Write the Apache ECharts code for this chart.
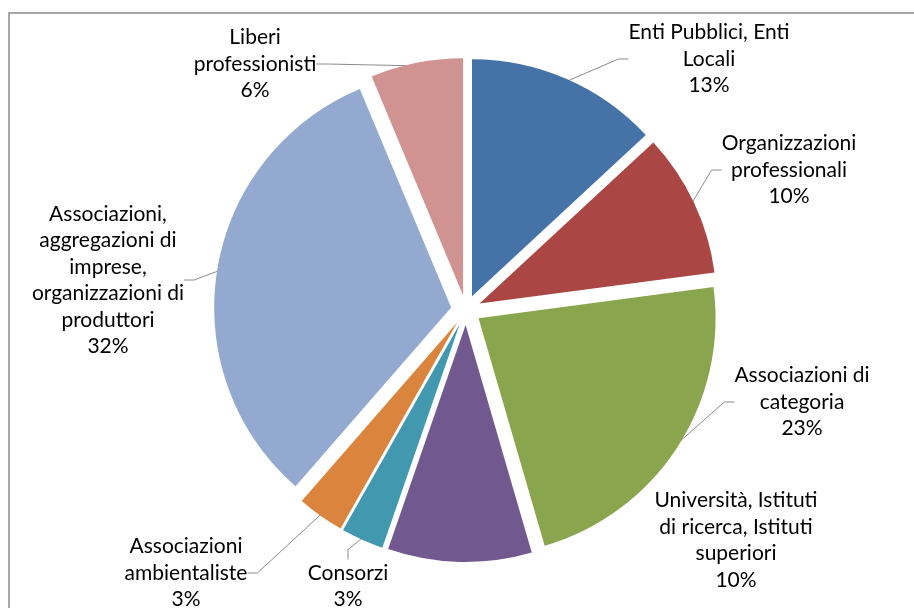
<!DOCTYPE html>
<html>
<head>
<meta charset="utf-8">
<script src="https://cdn.jsdelivr.net/npm/echarts@6/dist/echarts.min.js"></script>
<style>
html,body{margin:0;padding:0;background:#fff;}
#chart{width:914px;height:608px;}
</style>
</head>
<body>
<div id="chart"></div>
<script>
// Data
const categories = [
  "Enti Pubblici, Enti\nLocali",
  "Organizzazioni\nprofessionali",
  "Associazioni di\ncategoria",
  "Università, Istituti\ndi ricerca, Istituti\nsuperiori",
  "Consorzi",
  "Associazioni\nambientaliste",
  "Associazioni,\naggregazioni di\nimprese,\norganizzazioni di\nproduttori",
  "Liberi\nprofessionisti"
];
// shares (%); labels show them rounded
const values = [13.1, 9.8, 22.6, 9.8, 2.9, 3.2, 32.3, 6.3];
const colors = ["#4572A7", "#AA4643", "#89A54E", "#71588F", "#4198AF", "#DB843D", "#93A9CF", "#D19392"];

// Label anchor positions (text block centers) – layout only
const labelPos = [
  [709, 59], [789, 170], [802, 402], [736, 540],
  [348, 586], [186, 573], [108, 280], [255, 64]
];

const chart = echarts.init(document.getElementById('chart'), null, {renderer: 'canvas'});
const option = {
  animation: false,
  backgroundColor: '#ffffff',
  graphic: [{
    type: 'rect',
    shape: {x: 9, y: 13, width: 1000, height: 800},
    style: {fill: 'none', stroke: '#8c8c8c', lineWidth: 1.5},
    silent: true
  }],
  series: [{
    // exploded slices
    type: 'pie',
    center: [466, 310],
    radius: 237,
    startAngle: 90,
    clockwise: true,
    selectedMode: 'multiple',
    selectedOffset: 15,
    emphasis: {disabled: true},
    itemStyle: {borderWidth: 0},
    label: {show: false},
    labelLine: {show: false},
    data: categories.map((name, i) => ({
      name: name,
      value: values[i],
      selected: true,
      itemStyle: {color: colors[i]},
      select: {itemStyle: {color: colors[i]}}
    }))
  }, {
    // labels with leader lines
    type: 'pie',
    center: [466, 310],
    radius: 249,
    startAngle: 90,
    clockwise: true,
    silent: true,
    selectedMode: false,
    percentPrecision: 0,
    emphasis: {disabled: true},
    itemStyle: {color: 'rgba(0,0,0,0)', borderWidth: 0},
    label: {
      show: true,
      formatter: '{b}\n{d}%',
      fontFamily: 'Lato',
      fontSize: 21,
      lineHeight: 26.5,
      color: '#000000',
      align: 'center'
    },
    labelLine: {
      show: true,
      length: 10,
      length2: 10,
      lineStyle: {color: '#8c8c8c', width: 1}
    },
    labelLayout: function (params) {
      const p = labelPos[params.dataIndex];
      return {x: p[0], y: p[1], align: 'center', verticalAlign: 'middle'};
    },
    data: categories.map((name, i) => ({
      name: name,
      value: values[i],
      labelLine: {show: i !== 3}
    }))
  }]
};
chart.setOption(option);
</script>
</body>
</html>
